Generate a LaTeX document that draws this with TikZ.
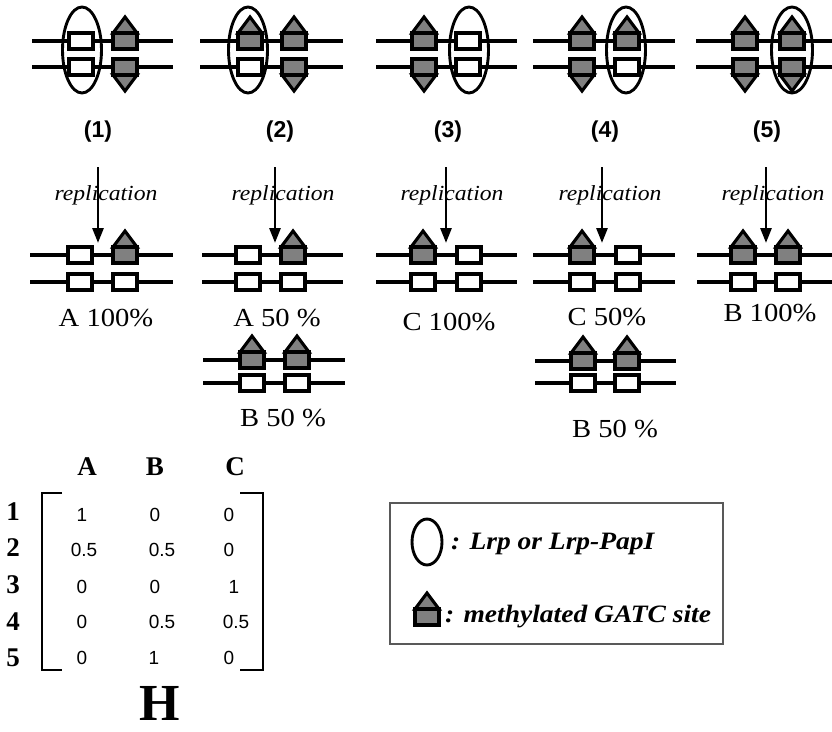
\documentclass[tikz,border=0pt]{standalone}
\usepackage{fontspec}
\setmainfont{Liberation Serif}
\newfontfamily\labsans{Liberation Sans}
\newfontfamily\wideserif[FakeStretch=1.1]{Liberation Serif}
\usetikzlibrary{arrows.meta,shapes.geometric}
\definecolor{sitegray}{gray}{0.5}
\definecolor{framegray}{gray}{0.35}

\tikzset{
  strand/.style={line width=3.5pt},
  wbox/.style={draw, line width=3.1pt, fill=white},
  mbox/.style={draw, line width=3.1pt, fill=sitegray},
  lrp/.style={draw, line width=2.9pt, ellipse, inner sep=0pt},
  stagelabel/.style={inner sep=0pt, font=\labsans\bfseries\fontsize{23}{23}\selectfont},
  replabel/.style={inner sep=0pt, font=\wideserif\itshape\fontsize{21.5}{21.5}\selectfont},
  fraclabel/.style={inner sep=0pt, font=\wideserif\fontsize{26}{26}\selectfont},
  repl/.style={line width=2.8pt, -{Triangle[length=15pt,width=11pt]}},
  headlabel/.style={inner sep=0pt, font=\bfseries\fontsize{27}{27}\selectfont},
  entry/.style={inner sep=0pt, font=\labsans\fontsize{19}{19}\selectfont},
  legendtext/.style={inner sep=0pt, anchor=west, font=\wideserif\bfseries\itshape\fontsize{25}{25}\selectfont},
  % GATC sites: open (unmethylated), methylated with the mark above or below
  pics/wsite/.style={code={\draw[wbox] (-12,-8) rectangle (12,8);}},
  pics/mup/.style={code={
      \draw[mbox] (-12,-8) -- (0,-24) -- (12,-8) -- cycle;
      \draw[mbox] (-12,-8) rectangle (12,8);}},
  pics/mdn/.style={code={
      \draw[mbox] (-12,8) -- (0,24) -- (12,8) -- cycle;
      \draw[mbox] (-12,-8) rectangle (12,8);}},
}

\begin{document}
\begin{tikzpicture}[x=1pt, y=-1pt]
\useasboundingbox (0,0) rectangle (832,731);

% ---------- parental states (1)-(5) ----------
\foreach \xa/\xb in {32/173, 200/343, 376/517, 533/675, 696/845} {
  \draw[strand] (\xa,41) -- (\xb,41);
  \draw[strand] (\xa,67) -- (\xb,67);
}
% state 1
\pic at (81,41) {wsite};  \pic at (81,67) {wsite};
\pic at (125,41) {mup};   \pic at (125,67) {mdn};
% state 2
\pic at (250,41) {mup};   \pic at (250,67) {wsite};
\pic at (294,41) {mup};   \pic at (294,67) {mdn};
% state 3
\pic at (424,41) {mup};   \pic at (424,67) {mdn};
\pic at (468,41) {wsite}; \pic at (468,67) {wsite};
% state 4
\pic at (582,41) {mup};   \pic at (582,67) {mdn};
\pic at (627,41) {mup};   \pic at (627,67) {wsite};
% state 5
\pic at (745,41) {mup};   \pic at (745,67) {mdn};
\pic at (792,41) {mup};   \pic at (792,67) {mdn};

% Lrp bound at one site
\node[lrp, minimum width=39pt, minimum height=86pt] (lrp1) at (82,50) {};
\node[lrp, minimum width=39pt, minimum height=86pt] (lrp2) at (248,50) {};
\node[lrp, minimum width=39pt, minimum height=86pt] (lrp3) at (469,50) {};
\node[lrp, minimum width=39pt, minimum height=86pt] (lrp4) at (626,50) {};
\node[lrp, minimum width=41pt, minimum height=86pt] (lrp5) at (792,50) {};

% stage numbers
\node[stagelabel] (s1) at (98,132) {(1)};
\node[stagelabel] (s2) at (280,132) {(2)};
\node[stagelabel] (s3) at (448,132) {(3)};
\node[stagelabel] (s4) at (605,132) {(4)};
\node[stagelabel] (s5) at (767,132) {(5)};

% ---------- replication ----------
\node[replabel] (r1) at (106,195) {replication};
\node[replabel] (r2) at (283,195) {replication};
\node[replabel] (r3) at (452,195) {replication};
\node[replabel] (r4) at (610,195) {replication};
\node[replabel] (r5) at (773,195) {replication};

\foreach \i/\x in {1/98, 2/275, 3/446, 4/602, 5/766} {
  \coordinate (a\i) at (\x,167);
  \coordinate (b\i) at (\x,243);
  \draw[repl] (a\i) -- (b\i);
}

% ---------- daughter molecules ----------
\foreach \xa/\xb in {30/173, 202/343, 376/517, 533/675, 697/845} {
  \draw[strand] (\xa,255) -- (\xb,255);
  \draw[strand] (\xa,282) -- (\xb,282);
}
\pic at (80,255) {wsite};  \pic at (125,255) {mup};
\pic at (80,282) {wsite};  \pic at (125,282) {wsite};
\pic at (248,255) {wsite}; \pic at (293,255) {mup};
\pic at (248,282) {wsite}; \pic at (293,282) {wsite};
\pic at (423,255) {mup};   \pic at (469,255) {wsite};
\pic at (423,282) {wsite}; \pic at (469,282) {wsite};
\pic at (582,255) {mup};   \pic at (628,255) {wsite};
\pic at (582,282) {wsite}; \pic at (628,282) {wsite};
\pic at (743,255) {mup};   \pic at (788,255) {mup};
\pic at (743,282) {wsite}; \pic at (788,282) {wsite};

% second daughter for states 2 and 4
\draw[strand] (203,360) -- (345,360);
\draw[strand] (203,383) -- (345,383);
\pic at (252,360) {mup};   \pic at (297,360) {mup};
\pic at (252,383) {wsite}; \pic at (297,383) {wsite};

\draw[strand] (535,361) -- (676,361);
\draw[strand] (535,383) -- (676,383);
\pic at (583,361) {mup};   \pic at (627,361) {mup};
\pic at (583,383) {wsite}; \pic at (627,383) {wsite};

% fractions
\node[fraclabel] (f1) at (106,318) {A 100\%};
\node[fraclabel] (f2) at (277,318) {A 50 \%};
\node[fraclabel] (f3) at (449,322) {C 100\%};
\node[fraclabel] (f4) at (607,317) {C 50\%};
\node[fraclabel] (f5) at (770,313) {B 100\%};
\node[fraclabel] (f6) at (283,418) {B 50 \%};
\node[fraclabel] (f7) at (615,429) {B 50 \%};

% ---------- matrix H ----------
\node[headlabel] (hA) at (87,467) {A};
\node[headlabel] (hB) at (155,467) {B};
\node[headlabel] (hC) at (235,467) {C};
\foreach \r/\y in {1/512, 2/548, 3/585, 4/622, 5/658}
  \node[headlabel] (row\r) at (13,\y) {\r};

\draw[line width=2.6pt] (62,493) -- (42,493) -- (42,670) -- (62,670);
\draw[line width=2.6pt] (240,493) -- (263,493) -- (263,670) -- (240,670);

\node[entry] (e11) at (82,515) {1};
\node[entry] (e12) at (155,515) {0};
\node[entry] (e13) at (229,515) {0};
\node[entry] (e21) at (84,550) {0.5};
\node[entry] (e22) at (162,550) {0.5};
\node[entry] (e23) at (229,550) {0};
\node[entry] (e31) at (82,587) {0};
\node[entry] (e32) at (155,587) {0};
\node[entry] (e33) at (234,587) {1};
\node[entry] (e41) at (82,622) {0};
\node[entry] (e42) at (162,622) {0.5};
\node[entry] (e43) at (236,622) {0.5};
\node[entry] (e51) at (82,658) {0};
\node[entry] (e52) at (154,658) {1};
\node[entry] (e53) at (229,658) {0};

\node[inner sep=0pt, font=\bfseries\fontsize{52}{52}\selectfont] (H) at (160,703) {H};

% ---------- legend ----------
\draw[framegray, line width=1.4pt] (390,503) rectangle (723,644);
\node[lrp, minimum width=30pt, minimum height=46pt] (keylrp) at (427,542) {};
\node[legendtext] (klrp) at (451,544) {: Lrp or Lrp-PapI};
\pic at (427,617) {mup};
\node[legendtext] (kgatc) at (445,617) {: methylated GATC site};
\end{tikzpicture}
\end{document}
